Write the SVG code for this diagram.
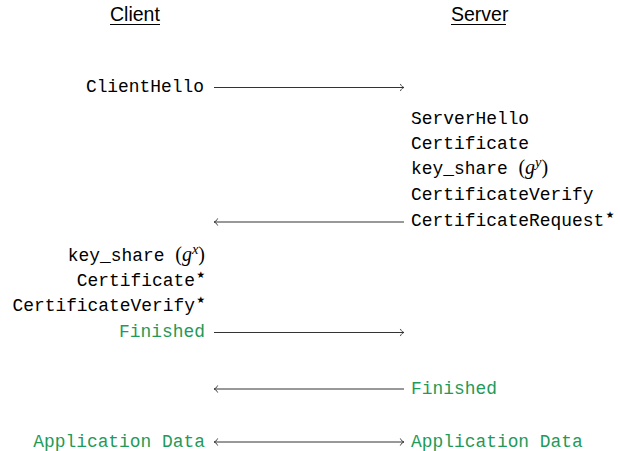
<svg xmlns="http://www.w3.org/2000/svg" width="620" height="451" viewBox="0 0 620 451">
  <style>
    .hdr { font-family: "Liberation Sans", "DejaVu Sans", sans-serif; font-size: 19.5px; fill: #000; }
    .msg { font-family: "Liberation Mono", "DejaVu Sans Mono", monospace; font-size: 17.9px; fill: #000; }
    .fin { fill: #1f9a58; }
    .l { text-anchor: end; }
    .star { font-family: "DejaVu Sans", sans-serif; font-size: 9.5px; }
    .math { font-family: "Liberation Serif", serif; font-size: 20px; }
    .it { font-style: italic; }
    .sup { font-family: "Liberation Serif", serif; font-style: italic; font-size: 14.5px; }
    .flow { stroke: #333; stroke-width: 1; fill: none; }
    .head { stroke: #333; stroke-width: 0.9; fill: none; stroke-linecap: round; }
  </style>
  <defs>
    <marker id="tip" viewBox="-6 -5 8 10" markerWidth="8" markerHeight="10" refX="0" refY="0" orient="auto-start-reverse" markerUnits="userSpaceOnUse">
      <path class="head" d="M-3.5,-3.2 C-2.6,-1.2 -1.2,-0.3 0,0 C-1.2,0.3 -2.6,1.2 -3.5,3.2"/>
    </marker>
  </defs>

  <!-- party headers -->
  <g id="client-header">
    <text class="hdr" x="110" y="21">Client</text>
    <line x1="110" y1="24.5" x2="160" y2="24.5" stroke="#000" stroke-width="1"/>
  </g>
  <g id="server-header">
    <text class="hdr" x="451" y="21">Server</text>
    <line x1="451" y1="24.5" x2="506" y2="24.5" stroke="#000" stroke-width="1"/>
  </g>

  <!-- client side messages -->
  <g id="client-hello">
    <text class="msg l" x="204" y="92">ClientHello</text>
  </g>
  <g id="client-flight">
    <text class="msg l" x="205" y="261">key_share <tspan class="math">(</tspan><tspan class="math it">g</tspan><tspan class="sup" dy="-7.5">x</tspan><tspan class="math" dy="7.5">)</tspan></text>
    <text class="msg l" x="205" y="286">Certificate<tspan class="star" dx="1.5" dy="-8">★</tspan></text>
    <text class="msg l" x="205" y="311">CertificateVerify<tspan class="star" dx="1.5" dy="-8">★</tspan></text>
    <text class="msg l fin" x="205" y="337">Finished</text>
  </g>
  <g id="client-appdata">
    <text class="msg l fin" x="205" y="447">Application Data</text>
  </g>

  <!-- server side messages -->
  <g id="server-flight">
    <text class="msg" x="411" y="124">ServerHello</text>
    <text class="msg" x="411" y="149">Certificate</text>
    <text class="msg" x="411" y="174">key_share <tspan class="math">(</tspan><tspan class="math it">g</tspan><tspan class="sup" dy="-7.5">y</tspan><tspan class="math" dy="7.5">)</tspan></text>
    <text class="msg" x="411" y="200">CertificateVerify</text>
    <text class="msg" x="411" y="226">CertificateRequest<tspan class="star" dx="1.5" dy="-8">★</tspan></text>
  </g>
  <g id="server-finished">
    <text class="msg fin" x="411" y="394">Finished</text>
  </g>
  <g id="server-appdata">
    <text class="msg fin" x="411" y="447">Application Data</text>
  </g>

  <!-- message flow -->
  <g id="connectors">
    <line class="flow" x1="214" y1="87.5" x2="404" y2="87.5" marker-end="url(#tip)"/>
    <line class="flow" x1="404" y1="222" x2="214" y2="222" marker-end="url(#tip)"/>
    <line class="flow" x1="214" y1="332.5" x2="404" y2="332.5" marker-end="url(#tip)"/>
    <line class="flow" x1="404" y1="389" x2="214" y2="389" marker-end="url(#tip)"/>
    <line class="flow" x1="214" y1="442" x2="404" y2="442" marker-start="url(#tip)" marker-end="url(#tip)"/>
  </g>
</svg>
